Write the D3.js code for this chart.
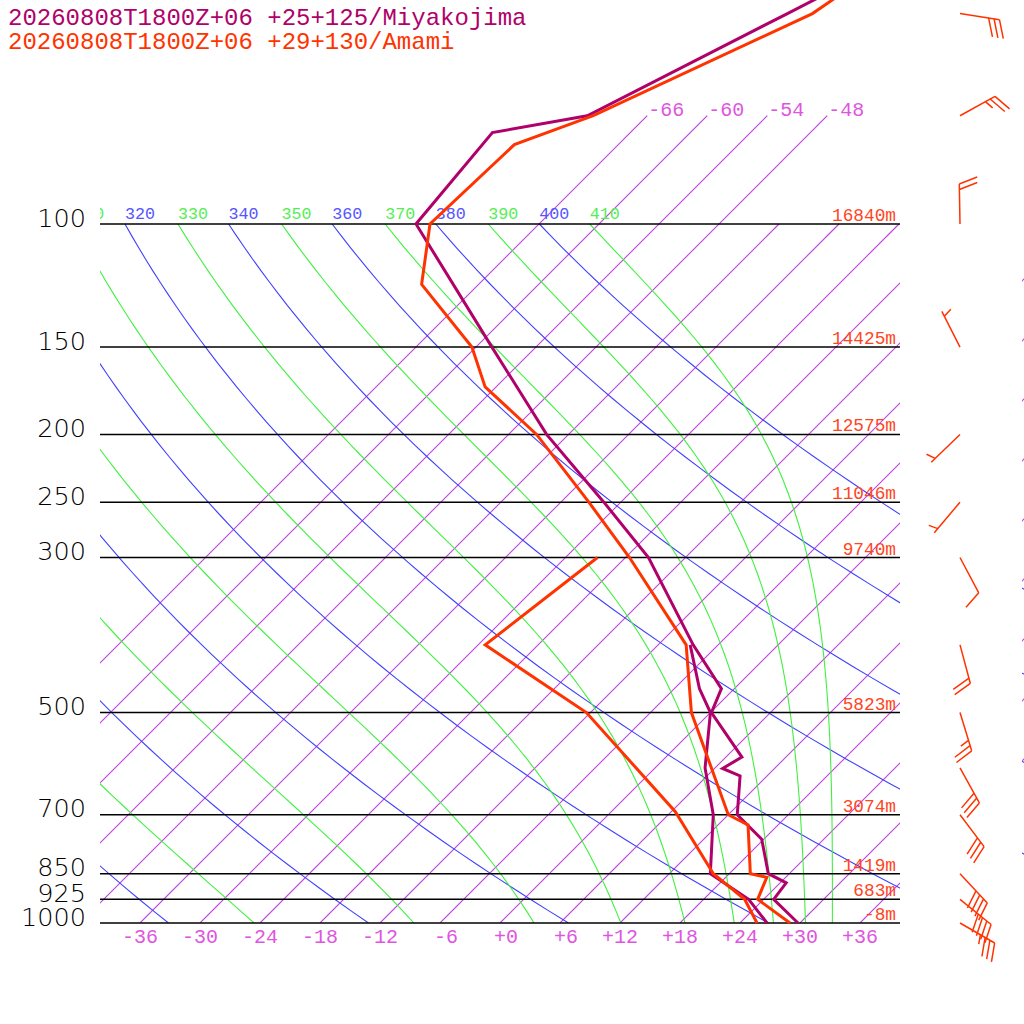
<!DOCTYPE html>
<html><head><meta charset="utf-8">
<script src="https://cdn.jsdelivr.net/npm/d3@7/dist/d3.min.js"></script>
<style>body{margin:0;background:#fff}svg{display:block}</style>
</head><body>
<svg id="c" width="1024" height="1024"></svg>
<script>
// ---------- data ----------
const titleLines = ["20260808T1800Z+06 +25+125/Miyakojima", "20260808T1800Z+06 +29+130/Amami"];
const pressureLevels = [1000, 925, 850, 700, 500, 300, 250, 200, 150, 100];
const pressureLabels = ["1000", "925", "850", "700", "500", "300", "250", "200", "150", "100"];
const heightLabels = ["-8m", "683m", "1419m", "3074m", "5823m", "9740m", "11046m", "12575m", "14425m", "16840m"];
const tempTicks = [-36, -30, -24, -18, -12, -6, 0, 6, 12, 18, 24, 30, 36];
const tempTickLabels = ["-36", "-30", "-24", "-18", "-12", "-6", "+0", "+6", "+12", "+18", "+24", "+30", "+36"];
const isotherms = [-66, -60, -54, -48, -42, -36, -30, -24, -18, -12, -6, 0, 6, 12, 18, 24, 30, 36];
const upperIsotherms = [-66, -60, -54, -48];
const dryAdiabats = [240, 260, 280, 300, 320, 340, 360, 380, 400];
const moistAdiabats = [250, 270, 290, 310, 330, 350, 370, 390, 410];

// Miyakojima
const miyTempP = [1000, 925, 876, 850, 759, 700, 616, 601, 579, 500, 462, 400, 300, 250, 200, 150, 100, 74, 70, 50, 40];
const miyTempT = [29.8, 25.0, 24.6, 21.9, 17.8, 12.9, 9.3, 6.8, 7.6, 0.1, -1.3, -8.5, -21.7, -31.7, -44.2, -58.4, -78.3, -79.8, -72.0, -62.2, -55.8];
const miyDewP = [1000, 925, 850, 700, 600, 500, 462, 400];
const miyDewT = [26.7, 22.5, 16.1, 10.5, 5.0, 0.0, -3.5, -8.8];
// Amami
const amaTempP = [1000, 925, 860, 850, 724, 700, 500, 400, 300, 250, 200, 171, 150, 122, 100, 77, 70, 50, 40];
const amaTempT = [29.0, 23.4, 22.1, 20.1, 15.0, 12.0, -1.9, -9.2, -23.6, -33.2, -45.2, -55.1, -60.4, -71.7, -76.9, -76.4, -71.4, -59.7, -56.6];
const amaDewP = [1000, 925, 850, 693, 500, 400, 300];
const amaDewT = [25.7, 22.1, 16.4, 6.4, -12.4, -29.3, -26.8];
// Amami winds
const windP = [1000, 925, 850, 700, 600, 500, 400, 300, 250, 200, 150, 100, 70, 50];
const windDir = [120, 129, 137, 143, 151, 163, 165, 152, 220, 226, 333, 359, 61, 99];
const windSpd = [35, 40, 40, 30, 30, 25, 20, 10, 5, 5, 5, 20, 25, 30];

// ---------- styles ----------
const C_MIY = "#b0006a", C_AMA = "#ff3300";
const C_ISO = "#c040e0", C_ISO_TXT = "#e055e0";
const C_DRY = "#4040ff", C_MOIST = "#40f040";
const MONO = "Liberation Mono, DejaVu Sans Mono, monospace";

// ---------- scales ----------
const svg = d3.select("#c");
const yP = d3.scaleLog().domain([1000, 100]).range([923, 224]);
const xT = d3.scaleLinear().domain([-40, 40]).range([100, 900]);
const skewX = (T, p) => xT(T) + (yP(1000) - yP(p));

const curveP = d3.range(0, 61).map(i => 1000 * Math.pow(0.1, i / 60));
const line = d3.line().x(d => skewX(d.T, d.p)).y(d => yP(d.p));

function es(Tc) { return 6.112 * Math.exp(17.67 * Tc / (Tc + 243.5)); }
function thetaES(Tc, p) {
  const T = Tc + 273.15, e = es(Tc);
  if (e > p * 0.5) return 1e9;
  const r = 622 * e / (p - e);
  return T * Math.pow(1000 / p, 0.2854 * (1 - 0.00028 * r)) * Math.exp((3.376 / T - 0.00254) * r * (1 + 0.00081 * r));
}
function moistT(te, p) {
  let lo = -170, hi = 70;
  for (let i = 0; i < 60; i++) { const m = (lo + hi) / 2; if (thetaES(m, p) > te) hi = m; else lo = m; }
  return (lo + hi) / 2;
}
const dryT = (th, p) => th * Math.pow(p / 1000, 0.2857) - 273.15;

const defs = svg.append("defs");
defs.append("clipPath").attr("id", "plot").append("rect").attr("x", 100).attr("y", 100).attr("width", 800).attr("height", 823);
defs.append("clipPath").attr("id", "lab").append("rect").attr("x", 100).attr("y", 190).attr("width", 800).attr("height", 34);
defs.append("clipPath").attr("id", "strip").append("rect").attr("x", 1022).attr("y", 224).attr("width", 2).attr("height", 699);

function drawGrid(g) {
  g.selectAll("path.iso").data(isotherms).join("path").attr("class", "iso")
    .attr("d", T => line([{T, p: 1000}, {T, p: upperIsotherms.includes(T) ? 70 : 100}]))
    .attr("fill", "none").attr("stroke", C_ISO).attr("stroke-width", 1.1);
  g.selectAll("path.dry").data(dryAdiabats).join("path").attr("class", "dry")
    .attr("d", th => line(curveP.map(p => ({p, T: dryT(th, p)}))))
    .attr("fill", "none").attr("stroke", C_DRY).attr("stroke-width", 1.1);
}
const grid = svg.append("g").attr("clip-path", "url(#plot)");
drawGrid(grid);
grid.selectAll("path.moist").data(moistAdiabats).join("path").attr("class", "moist")
  .attr("d", te => line(curveP.map(p => ({p, T: moistT(te, p)}))))
  .attr("fill", "none").attr("stroke", C_MOIST).attr("stroke-width", 1.1);
drawGrid(svg.append("g").attr("clip-path", "url(#strip)"));

// pressure lines
svg.append("g").selectAll("line").data(pressureLevels).join("line")
  .attr("x1", 100).attr("x2", 900).attr("y1", p => yP(p)).attr("y2", p => yP(p))
  .attr("stroke", "#000").attr("stroke-width", 1.5);

// theta labels at 100 hPa (only those reaching into the plot)
const dryLab = dryAdiabats.filter(th => skewX(dryT(th, 100), 100) > 70);
const moistLab = moistAdiabats.filter(te => skewX(moistT(te, 100), 100) > 70);
const labG = svg.append("g").attr("clip-path", "url(#lab)").attr("font-family", MONO).attr("font-size", 16.7);
labG.selectAll("text.d").data(dryLab).join("text").attr("class", "d")
  .attr("x", th => skewX(dryT(th, 100), 100)).attr("y", 219).attr("fill", "#5555ff").text(th => th);
labG.selectAll("text.m").data(moistLab).join("text").attr("class", "m")
  .attr("x", te => skewX(moistT(te, 100), 100)).attr("y", 219).attr("fill", "#55ee55").text(te => te);

// upper isotherm labels
svg.append("g").attr("font-family", MONO).attr("font-size", 20).attr("fill", C_ISO_TXT)
  .selectAll("text").data(upperIsotherms).join("text")
  .attr("x", T => skewX(T, 70) + 1).attr("y", 116).text(T => "" + T);

// bottom temperature labels
svg.append("g").attr("font-family", MONO).attr("font-size", 20).attr("fill", C_ISO_TXT).attr("text-anchor", "end")
  .selectAll("text").data(tempTicks).join("text")
  .attr("x", T => xT(T) + 18).attr("y", 943).text((T, i) => tempTickLabels[i]);

// pressure labels
svg.append("g").attr("font-family", "DejaVu Sans ExtraLight, DejaVu Sans, sans-serif").attr("font-weight", 200)
  .attr("font-size", 25.5).attr("fill", "#000").attr("text-anchor", "end")
  .selectAll("text").data(pressureLevels).join("text")
  .attr("x", 86).attr("y", p => yP(p) + 2.5).text((p, i) => pressureLabels[i]);

// height labels
svg.append("g").attr("font-family", MONO).attr("font-size", 17.8).attr("fill", "#ff4422").attr("text-anchor", "end")
  .selectAll("text").data(pressureLevels).join("text")
  .attr("x", 896).attr("y", p => yP(p) - 3).text((p, i) => heightLabels[i]);

// profiles
const prof = (P, T) => P.map((p, i) => ({p, T: T[i]}));
const profG = svg.append("g").attr("fill", "none").attr("stroke-width", 3).attr("stroke-linejoin", "miter").attr("stroke-miterlimit", 3);
profG.append("path").attr("d", line(prof(miyDewP, miyDewT))).attr("stroke", C_MIY);
profG.append("path").attr("d", line(prof(miyTempP, miyTempT))).attr("stroke", C_MIY);
profG.append("path").attr("d", line(prof(amaDewP, amaDewT))).attr("stroke", C_AMA);
profG.append("path").attr("d", line(prof(amaTempP, amaTempT))).attr("stroke", C_AMA);

// wind barbs (Amami)
function barb(x0, y0, dir, spd) {
  const r = dir * Math.PI / 180, dx = Math.sin(r), dy = -Math.cos(r);
  const px = -dy, py = dx, L = 40, sp = 5.5, F = 18, A = 6.7;
  let s = `M${x0},${y0}L${x0 + dx * L},${y0 + dy * L}`;
  const n = Math.floor(spd / 10), half = spd % 10 >= 5;
  let pos = (n === 0 && half) ? L - sp : L;
  for (let i = 0; i < n; i++) {
    s += `M${x0 + dx * pos},${y0 + dy * pos}l${px * F + dx * A},${py * F + dy * A}`; pos -= sp;
  }
  if (half) s += `M${x0 + dx * pos},${y0 + dy * pos}l${(px * F + dx * A) / 2},${(py * F + dy * A) / 2}`;
  return s;
}
svg.append("g").attr("fill", "none").attr("stroke", C_AMA).attr("stroke-width", 1.5)
  .selectAll("path").data(windP).join("path")
  .attr("d", (p, i) => barb(960, yP(p), windDir[i], windSpd[i]));

// titles
svg.append("g").attr("font-family", MONO).attr("font-size", 24)
  .selectAll("text").data(titleLines).join("text")
  .attr("x", 8).attr("y", (d, i) => 25 + i * 24).attr("fill", (d, i) => i ? C_AMA : C_MIY).text(d => d);
</script>
</body></html>
